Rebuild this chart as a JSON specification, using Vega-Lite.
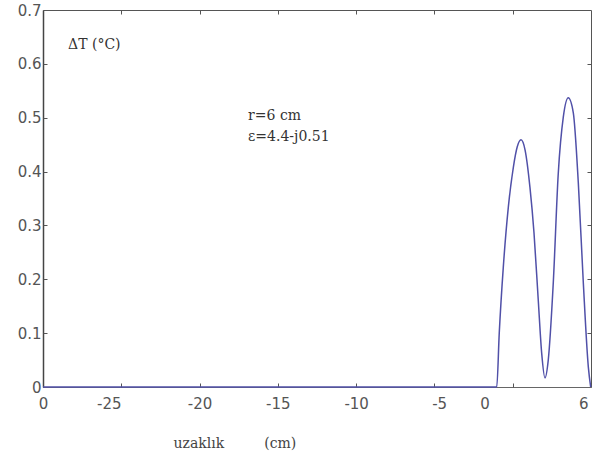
{
  "$schema": "https://vega.github.io/schema/vega-lite/v6.json",
  "width": 548,
  "height": 377,
  "autosize": {"type": "none"},
  "padding": {"left": 43, "top": 10, "right": 6, "bottom": 75},
  "background": "white",
  "config": {
    "view": {"stroke": "#555", "strokeWidth": 1},
    "axis": {"grid": false, "labelFont": "DejaVu Sans", "labelFontSize": 15, "labelColor": "#555", "domainColor": "#444", "tickColor": "#555", "labelFlush": false, "labelOverlap": false, "labelBound": false}
  },
  "datasets": {
    "curve": [
      {"x": -30, "y": 0},
      {"x": -1.02, "y": 0},
      {"x": -0.86, "y": 0.1},
      {"x": -0.6, "y": 0.223},
      {"x": -0.28, "y": 0.334},
      {"x": 0.04, "y": 0.408},
      {"x": 0.29, "y": 0.446},
      {"x": 0.53, "y": 0.459},
      {"x": 0.79, "y": 0.44},
      {"x": 1.1, "y": 0.371},
      {"x": 1.36, "y": 0.286},
      {"x": 1.63, "y": 0.162},
      {"x": 1.85, "y": 0.063},
      {"x": 2.06, "y": 0.017},
      {"x": 2.27, "y": 0.05},
      {"x": 2.59, "y": 0.193},
      {"x": 2.91, "y": 0.397},
      {"x": 3.23, "y": 0.501},
      {"x": 3.55, "y": 0.537},
      {"x": 3.87, "y": 0.509},
      {"x": 4.19, "y": 0.379},
      {"x": 4.51, "y": 0.193},
      {"x": 4.83, "y": 0.037},
      {"x": 4.98, "y": 0}
    ],
    "notes": [
      {"x": -28.4, "y": 0.635, "label": "ΔT (°C)"},
      {"x": -16.9, "y": 0.503, "label": "r=6 cm"},
      {"x": -16.9, "y": 0.464, "label": "ε=4.4-j0.51"}
    ]
  },
  "layer": [
    {
      "data": {"name": "curve"},
      "mark": {"type": "line", "color": "#5050a8", "strokeWidth": 1.5, "interpolate": "monotone"},
      "encoding": {
        "x": {
          "field": "x", "type": "quantitative",
          "scale": {"domain": [-30, 5], "nice": false, "zero": false},
          "axis": {
            "orient": "bottom",
            "values": [-30, -25.8, -20, -15, -10, -4.7, -1.8, 4.5],
            "labelExpr": "datum.value < -28 ? '0' : datum.value < -23 ? '-25' : datum.value < -18 ? '-20' : datum.value < -13 ? '-15' : datum.value < -8 ? '-10' : datum.value < -3 ? '-5' : datum.value < 1 ? '0' : '6'",
            "ticks": false, "tickSize": 0, "labelPadding": 9,
            "domain": true, "domainColor": "#666",
            "title": "uzaklık\u00a0\u00a0\u00a0\u00a0\u00a0\u00a0\u00a0\u00a0\u00a0(cm)",
            "titleFont": "DejaVu Serif", "titleFontSize": 14, "titleFontWeight": "normal", "titleColor": "#444",
            "titleAnchor": "start", "titleAlign": "left", "titleX": 130, "titleY": 56, "titleBaseline": "middle"
          }
        },
        "y": {
          "field": "y", "type": "quantitative",
          "scale": {"domain": [0, 0.7], "nice": false},
          "axis": {
            "orient": "left",
            "values": [0, 0.1, 0.2, 0.3, 0.4, 0.5, 0.6, 0.7],
            "format": "~g",
            "ticks": false, "tickSize": 0, "labelPadding": 2,
            "domain": true, "domainColor": "#444", "domainWidth": 1.5,
            "title": null
          }
        }
      }
    },
    {
      "data": {"name": "curve"},
      "mark": {"type": "line", "opacity": 0},
      "encoding": {
        "x": {"field": "x", "type": "quantitative", "axis": {"orient": "top", "values": [-25, -20, -15, -10, -5, 0], "tickSize": -4, "labels": false, "domain": false, "title": null}},
        "y": {"field": "y", "type": "quantitative", "axis": {"orient": "right", "values": [0.1, 0.2, 0.3, 0.4, 0.5, 0.6], "tickSize": -4, "labels": false, "domain": false, "title": null}}
      }
    },
    {
      "data": {"name": "curve"},
      "mark": {"type": "line", "opacity": 0},
      "encoding": {
        "x": {"field": "x", "type": "quantitative", "axis": {"orient": "bottom", "values": [-25, -20, -15, -10, -5, 0], "tickSize": -4, "labels": false, "domain": false, "title": null}},
        "y": {"field": "y", "type": "quantitative", "axis": {"orient": "left", "values": [0.1, 0.2, 0.3, 0.4, 0.5, 0.6], "tickSize": -4, "labels": false, "domain": false, "title": null}}
      }
    },
    {
      "data": {"name": "notes"},
      "mark": {"type": "text", "align": "left", "baseline": "middle", "font": "DejaVu Serif", "fontSize": 14, "color": "#333"},
      "encoding": {
        "x": {"field": "x", "type": "quantitative", "axis": null},
        "y": {"field": "y", "type": "quantitative", "axis": null},
        "text": {"field": "label"}
      }
    }
  ],
  "resolve": {"axis": {"x": "independent", "y": "independent"}}
}
